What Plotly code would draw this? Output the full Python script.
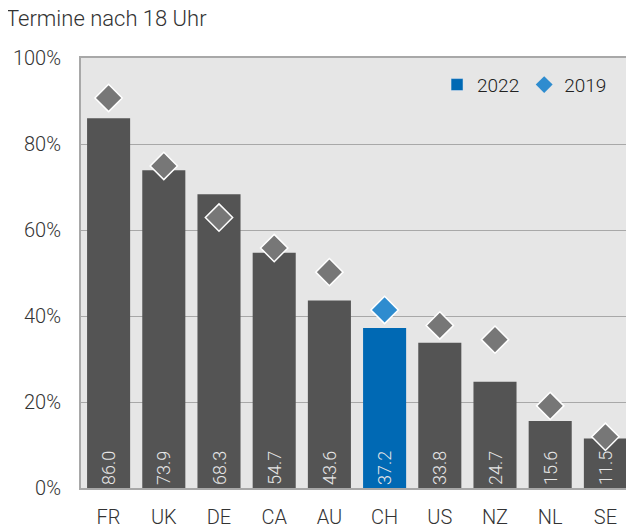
import plotly.graph_objects as go

countries = ["FR", "UK", "DE", "CA", "AU", "CH", "US", "NZ", "NL", "SE"]
values_2022 = [86.0, 73.9, 68.3, 54.7, 43.6, 37.2, 33.8, 24.7, 15.6, 11.5]
values_2019 = [90.7, 74.9, 62.9, 55.8, 50.2, 41.4, 37.8, 34.5, 19.1, 11.9]
y_ticks = [0, 20, 40, 60, 80, 100]

highlight = "CH"
bar_colors = ["#0069b4" if c == highlight else "#545454" for c in countries]
dia_colors = ["#2e8ccf" if c == highlight else "#777777" for c in countries]

FONT = "Roboto"

fig = go.Figure()
fig.add_trace(go.Bar(
    x=countries, y=values_2022,
    marker=dict(color=bar_colors, line=dict(width=0)),
    text=[f"{v:.1f}" for v in values_2022],
    textposition="inside", insidetextanchor="start", textangle=-90,
    insidetextfont=dict(family=FONT, size=18, color="#e6e6e6", weight=300),
    cliponaxis=False, showlegend=False, hoverinfo="skip",
))
fig.add_trace(go.Scatter(
    x=countries, y=values_2019, mode="markers",
    marker=dict(symbol="diamond", size=21, color=dia_colors,
                line=dict(color="white", width=1.5)),
    cliponaxis=False, showlegend=False, hoverinfo="skip",
))
# legend entries
fig.add_trace(go.Bar(x=[countries[0]], y=[None], name="2022",
                     marker=dict(color="#0069b4"), showlegend=True))
fig.add_trace(go.Scatter(x=[countries[0]], y=[None], name="2019", mode="markers",
                         marker=dict(symbol="diamond", size=13, color="#2e8ccf"),
                         showlegend=True))

# the page body adds an 8px offset, so the figure is sized to fit the window
fig.update_layout(
    width=626, height=518,
    margin=dict(l=73, r=1, t=50, b=38, autoexpand=False),
    paper_bgcolor="white", plot_bgcolor="#e6e6e6",
    font=dict(family=FONT, size=20, color="#333333", weight=300),
    bargap=0.22,
    barmode="overlay",
    showlegend=True,
    legend=dict(orientation="h", x=0.645, y=0.982, xanchor="left", yanchor="top",
                bgcolor="rgba(0,0,0,0)", itemwidth=30, traceorder="normal",
                font=dict(family=FONT, size=19, color="#222222", weight=300)),
    annotations=[dict(text="Termine nach 18 Uhr", x=0, xref="paper", xanchor="left",
                      y=1, yref="paper", yanchor="middle", showarrow=False,
                      font=dict(family=FONT, size=22, color="#333333", weight=300),
                      xshift=-77, yshift=40)],
)

fig.update_yaxes(range=[0, 100], tickvals=y_ticks, ticktext=[f"{t}%" for t in y_ticks],
                 showgrid=True, gridcolor="#a8a8a8", gridwidth=1.2,
                 showline=True, linecolor="#a8a8a8", linewidth=2, mirror=True,
                 ticks="", ticklabelstandoff=14, zeroline=False, automargin=False,
                 tickfont=dict(family=FONT, size=20, color="#333333", weight=300))
fig.update_xaxes(range=[-0.5, len(countries) - 0.5],
                 showline=True, linecolor="#a8a8a8", linewidth=2, mirror=True,
                 ticks="", ticklabelstandoff=10, automargin=False,
                 tickfont=dict(family=FONT, size=20, color="#333333", weight=300))

fig.write_html("out.html")
